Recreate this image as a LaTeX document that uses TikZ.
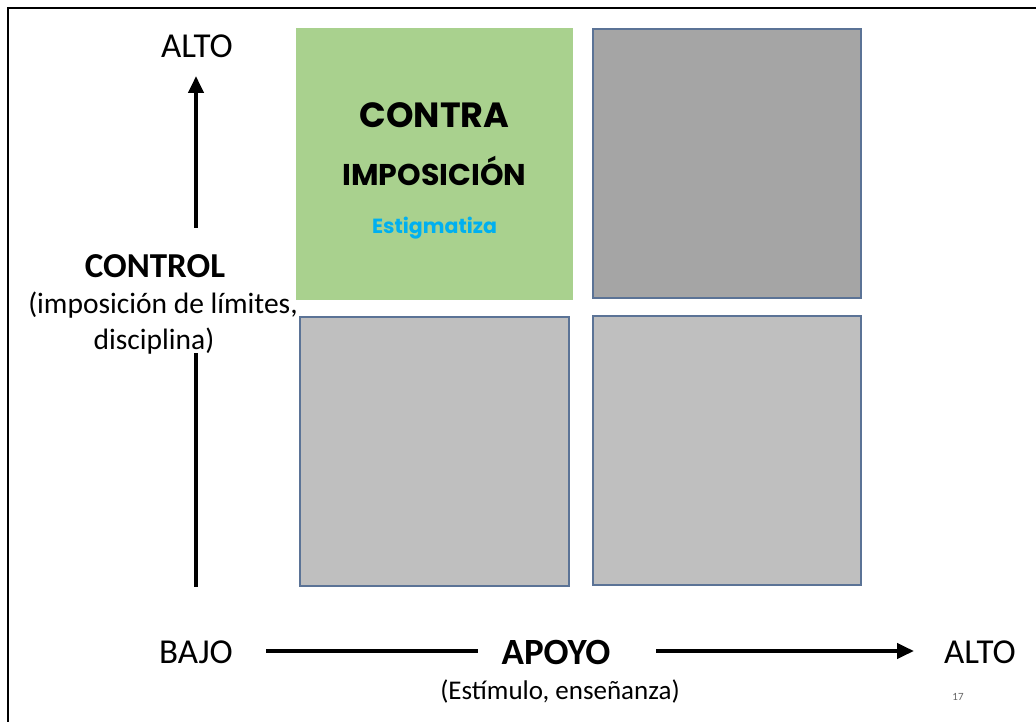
\documentclass[tikz,border=0pt]{standalone}
\usepackage{fontspec}
\setmainfont{Carlito}
\newfontfamily\boxfont{Poppins}
\usetikzlibrary{arrows.meta}
\definecolor{greenq}{HTML}{A9D18E}
\definecolor{darkq}{HTML}{A5A5A5}
\definecolor{lightq}{HTML}{BFBFBF}
\definecolor{edgeq}{HTML}{5B7396}
\definecolor{cyanq}{HTML}{00B0F0}
\begin{document}
\begin{tikzpicture}[x=1pt,y=-1pt,
  quad/.style={draw=edgeq,line width=1.5pt},
  lbl/.style={inner sep=0pt,font=\fontsize{35}{40}\selectfont},
  sub/.style={inner sep=0pt,font=\fontsize{29.5}{34}\selectfont},
  axis/.style={line width=4pt},
  tipped/.style={axis,-{Triangle[length=17pt,width=15pt]}}]
\useasboundingbox (0,0) rectangle (1036,722);
\fill[white] (0,0) rectangle (1036,722);
\draw[line width=2.5pt] (8,722) -- (8,8) -- (1036,8);
% quadrants
\fill[greenq] (296,28) rectangle (573,300);
\draw[quad,fill=darkq] (593,29) rectangle (861,298);
\draw[quad,fill=lightq] (300,317) rectangle (569,586);
\draw[quad,fill=lightq] (593,316) rectangle (861,585);
\node[inner sep=0pt,font=\boxfont\bfseries\fontsize{35}{40}\selectfont] (contra) at (434.5,115) {CONTRA};
\node[inner sep=0pt,font=\boxfont\bfseries\fontsize{30}{34}\selectfont] (impo) at (434.5,171) {IMPOSICIÓN};
\node[inner sep=0pt,text=cyanq,font=\boxfont\bfseries\fontsize{20.5}{24}\selectfont] (estig) at (434.5,228) {Estigmatiza};
% vertical axis
\node[lbl] (altoV) at (197,46) {ALTO};
\node[lbl,font=\bfseries\fontsize{35}{40}\selectfont] (control) at (155,266) {CONTROL};
\node[sub] (sub1) at (163,305) {(imposición de límites,};
\node[sub] (sub2) at (154,341) {disciplina)};
\coordinate (vlo) at (196,228);
\coordinate (vhi) at (196,76);
\coordinate (vl1) at (196,353);
\coordinate (vl2) at (196,587);
\draw[tipped] (vlo) -- (vhi);
\draw[axis] (vl1) -- (vl2);
% horizontal axis
\node[lbl] (bajo) at (196,652) {BAJO};
\node[lbl,font=\bfseries\fontsize{37}{42}\selectfont] (apoyo) at (556,652) {APOYO};
\node[lbl] (altoH) at (980,652) {ALTO};
\node[inner sep=0pt,font=\fontsize{27}{32}\selectfont] (estim) at (560,691) {(Estímulo, enseñanza)};
\node[inner sep=0pt,text=black!60,font=\fontsize{11}{13}\selectfont] (pg) at (958,697) {17};
\coordinate (h1) at (266,651);
\coordinate (h2) at (478,651);
\coordinate (h3) at (656,651);
\coordinate (h4) at (914,651);
\draw[axis] (h1) -- (h2);
\draw[tipped] (h3) -- (h4);
\end{tikzpicture}
\end{document}
